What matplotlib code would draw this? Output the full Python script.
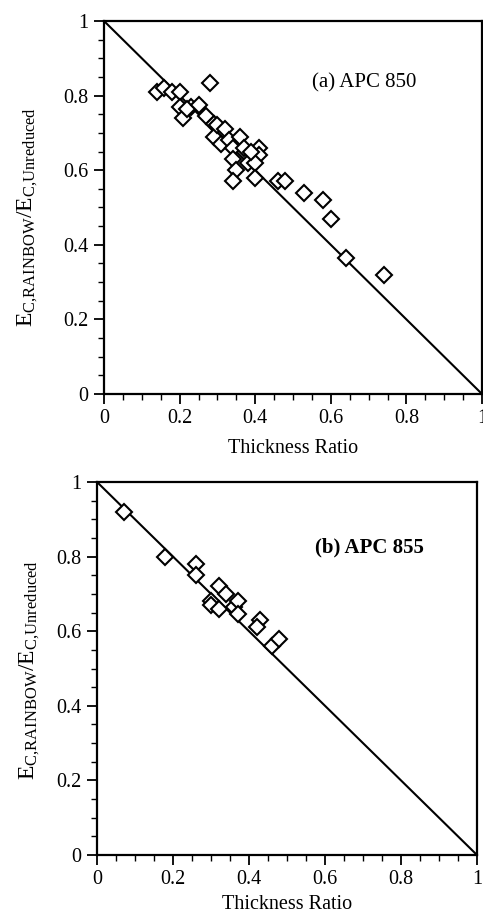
import matplotlib
matplotlib.use("Agg")
import matplotlib.pyplot as plt
from matplotlib.ticker import MultipleLocator, FixedLocator
import numpy as np

plt.rcParams['font.family'] = ['Liberation Serif', 'DejaVu Serif']
plt.rcParams['mathtext.fontset'] = 'custom'
plt.rcParams['mathtext.rm'] = 'Liberation Serif'
plt.rcParams['mathtext.it'] = 'Liberation Serif:italic'

# Panel (a) APC 850
x_a = [0.14, 0.16, 0.18, 0.20, 0.20, 0.21, 0.23, 0.22, 0.25, 0.28, 0.27, 0.29,
       0.29, 0.30, 0.32, 0.31, 0.33, 0.36, 0.34, 0.34, 0.37, 0.41, 0.41, 0.38,
       0.40, 0.35, 0.34, 0.40, 0.39, 0.46, 0.48, 0.53, 0.58, 0.60, 0.64, 0.74]
y_a = [0.81, 0.82, 0.81, 0.81, 0.77, 0.74, 0.77, 0.765, 0.775, 0.835, 0.745, 0.725,
       0.69, 0.72, 0.71, 0.67, 0.68, 0.69, 0.66, 0.63, 0.66, 0.66, 0.64, 0.62,
       0.62, 0.60, 0.57, 0.58, 0.65, 0.57, 0.57, 0.54, 0.52, 0.47, 0.365, 0.32]

# Panel (b) APC 855
x_b = [0.07, 0.18, 0.26, 0.26, 0.32, 0.34, 0.30, 0.30, 0.32, 0.36, 0.37, 0.37,
       0.43, 0.42, 0.46, 0.48]
y_b = [0.92, 0.80, 0.78, 0.75, 0.72, 0.70, 0.68, 0.67, 0.66, 0.665, 0.68, 0.645,
       0.63, 0.61, 0.56, 0.58]

line_x = [0, 1]
line_y = [1, 0]

ticks = [0, 0.2, 0.4, 0.6, 0.8, 1]
tick_labels = ['0', '0.2', '0.4', '0.6', '0.8', '1']

xlabel = 'Thickness Ratio'
ylabel = r'$\mathregular{E_{C{,}RAINBOW}/E_{C{,}Unreduced}}$'

W, H = 483, 914
fig = plt.figure(figsize=(W / 100, H / 100), dpi=100)

ax_a = fig.add_axes([104 / W, 1 - 394 / H, 378 / W, 373 / H])
ax_b = fig.add_axes([97 / W, 1 - 855 / H, 380 / W, 373 / H])

panels = [
    (ax_a, x_a, y_a, '(a) APC 850', (0.55, 0.834), 'normal', 8, (-0.169, 0.475)),
    (ax_b, x_b, y_b, '(b) APC 855', (0.574, 0.825), 'bold', 4, (-0.145, 0.495)),
]

for ax, xs, ys, label, pos, weight, xlpad, ylcoords in panels:
    ax.plot(line_x, line_y, color='black', lw=1.5, zorder=2)
    ax.plot(xs, ys, linestyle='none', marker='D', markersize=8,
            markerfacecolor='white', markeredgecolor='black',
            markeredgewidth=1.5, zorder=3)
    ax.set_xlim(0, 1)
    ax.set_ylim(0, 1)
    ax.xaxis.set_major_locator(FixedLocator(ticks))
    ax.yaxis.set_major_locator(FixedLocator(ticks))
    ax.set_xticklabels(tick_labels)
    ax.set_yticklabels(tick_labels)
    ax.xaxis.set_minor_locator(MultipleLocator(0.05))
    ax.yaxis.set_minor_locator(MultipleLocator(0.05))
    ax.tick_params(which='major', direction='out', length=7, width=1.3,
                   labelsize=14.5, pad=4, top=False, right=False)
    ax.tick_params(which='minor', direction='out', length=4, width=1.0,
                   top=False, right=False)
    for s in ax.spines.values():
        s.set_linewidth(1.6)
    ax.set_xlabel(xlabel, fontsize=14.5, labelpad=xlpad)
    ax.set_ylabel(ylabel, fontsize=17)
    ax.yaxis.set_label_coords(*ylcoords)
    ax.text(pos[0], pos[1], label, fontsize=15, fontweight=weight,
            ha='left', va='center', transform=ax.transData)

fig.savefig('out.png', dpi=100)
